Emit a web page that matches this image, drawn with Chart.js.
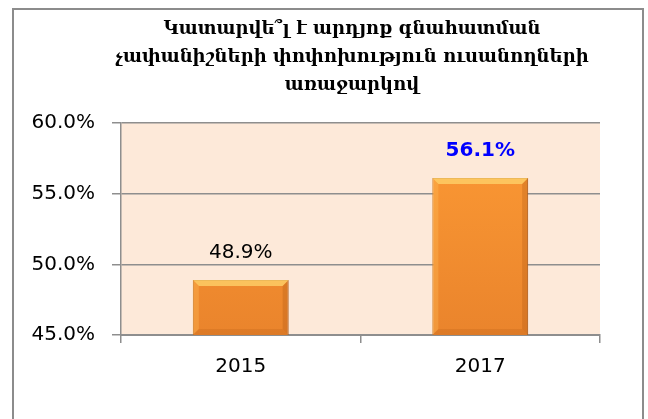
<!DOCTYPE html>
<html>
<head>
<meta charset="utf-8">
<script src="https://cdn.jsdelivr.net/npm/chart.js@4"></script>
<style>
  html, body { margin: 0; padding: 0; background: #ffffff; }
  #wrap { width: 648px; height: 419px; }
</style>
</head>
<body>
<div id="wrap"><canvas id="chart" width="648" height="419"></canvas></div>
<script>
// Chart data
const years = ['2015', '2017'];
const shares = [48.9, 56.1];
const titleLines = [
    'Կատարվե՞լ է արդյոք գնահատման',
    'չափանիշների փոփոխություն ուսանողների',
    'առաջարկով'
];
const labelColors = ['#000000', '#0000ff'];
const labelWeights = ['normal', 'bold'];

// Frame around the whole chart + peach plot background
const backgroundPlugin = {
    id: 'background',
    beforeDraw(chart) {
        const ctx = chart.ctx;
        const a = chart.chartArea;
        ctx.save();
        ctx.strokeStyle = '#8c8c8c';
        ctx.lineWidth = 2;
        ctx.strokeRect(13, 9, 630, 460);
        ctx.fillStyle = '#fde9d9';
        ctx.fillRect(a.left, a.top, a.right - a.left, a.bottom - a.top);
        ctx.restore();
    }
};

// Title drawn by hand so it can sit a little right of centre
const titlePlugin = {
    id: 'armTitle',
    afterDraw(chart) {
        const ctx = chart.ctx;
        ctx.save();
        ctx.font = 'bold 18px "DejaVu Serif", "DejaVu Sans", serif';
        ctx.fillStyle = '#000000';
        ctx.textAlign = 'center';
        ctx.textBaseline = 'middle';
        titleLines.forEach((line, i) => {
            ctx.fillText(line, 352, 29 + i * 28);
        });
        ctx.restore();
    }
};

// Value labels above the bars
const valueLabels = {
    id: 'valueLabels',
    afterDatasetsDraw(chart) {
        const ctx = chart.ctx;
        const meta = chart.getDatasetMeta(0);
        ctx.save();
        ctx.textAlign = 'center';
        ctx.textBaseline = 'middle';
        meta.data.forEach((bar, i) => {
            ctx.font = labelWeights[i] + ' 20px "DejaVu Sans", sans-serif';
            ctx.fillStyle = labelColors[i];
            ctx.fillText(shares[i].toFixed(1) + '%', bar.x, bar.y - 27);
        });
        ctx.restore();
    }
};

// Small bevel highlight on each bar
const bevelPlugin = {
    id: 'bevel',
    afterDatasetsDraw(chart) {
        const ctx = chart.ctx;
        const meta = chart.getDatasetMeta(0);
        const bottom = chart.scales.y.getPixelForValue(chart.scales.y.min);
        ctx.save();
        meta.data.forEach(bar => {
            const p = bar.getProps(['x', 'y', 'width'], true);
            const l = p.x - p.width / 2;
            const r = p.x + p.width / 2;
            const t = p.y;
            const b = bottom;
            const d = 6;
            ctx.fillStyle = 'rgba(255, 214, 110, 0.75)';
            ctx.beginPath();
            ctx.moveTo(l, t); ctx.lineTo(r, t); ctx.lineTo(r - d, t + d); ctx.lineTo(l + d, t + d);
            ctx.closePath(); ctx.fill();
            ctx.fillStyle = 'rgba(150, 70, 10, 0.22)';
            ctx.beginPath();
            ctx.moveTo(r, t); ctx.lineTo(r, b); ctx.lineTo(r - d, b - d); ctx.lineTo(r - d, t + d);
            ctx.closePath(); ctx.fill();
            ctx.fillStyle = 'rgba(150, 70, 10, 0.15)';
            ctx.beginPath();
            ctx.moveTo(l, b); ctx.lineTo(r, b); ctx.lineTo(r - d, b - d); ctx.lineTo(l + d, b - d);
            ctx.closePath(); ctx.fill();
            ctx.fillStyle = 'rgba(255, 190, 90, 0.35)';
            ctx.beginPath();
            ctx.moveTo(l, t); ctx.lineTo(l + d, t + d); ctx.lineTo(l + d, b - d); ctx.lineTo(l, b);
            ctx.closePath(); ctx.fill();
        });
        ctx.restore();
    }
};

function barFill(context) {
    const chart = context.chart;
    const area = chart.chartArea;
    if (!area) return '#f7962f';
    const g = chart.ctx.createLinearGradient(0, area.top, 0, area.bottom);
    g.addColorStop(0, '#fd9b35');
    g.addColorStop(1, '#ea842c');
    return g;
}

const ctx = document.getElementById('chart').getContext('2d');
const chart = new Chart(ctx, {
    type: 'bar',
    data: {
        labels: years,
        datasets: [{
            data: shares,
            backgroundColor: barFill,
            borderColor: '#b9661f',
            borderWidth: 1,
            borderSkipped: false,
            barPercentage: 0.4,
            categoryPercentage: 1
        }]
    },
    options: {
        responsive: false,
        animation: false,
        layout: {
            padding: { top: 123, right: 48, left: 0, bottom: 0 }
        },
        plugins: {
            legend: { display: false },
            title: { display: false },
            tooltip: { enabled: false }
        },
        scales: {
            y: {
                min: 45,
                max: 60,
                afterFit(scale) { scale.width = 121; },
                ticks: {
                    stepSize: 5,
                    padding: 17,
                    color: '#000000',
                    font: { family: '"DejaVu Sans", sans-serif', size: 20 },
                    callback: v => v.toFixed(1) + '%'
                },
                grid: { color: '#8e8e8e', tickLength: 9, lineWidth: 1.5 },
                border: { color: '#8e8e8e', width: 1.5 }
            },
            x: {
                afterFit(scale) { scale.height = 84; },
                ticks: {
                    padding: 12,
                    color: '#000000',
                    font: { family: '"DejaVu Sans", sans-serif', size: 20 }
                },
                grid: { drawOnChartArea: false, color: '#8e8e8e', tickLength: 8, lineWidth: 1.5 },
                border: { color: '#8e8e8e', width: 2 }
            }
        }
    },
    plugins: [backgroundPlugin, bevelPlugin, valueLabels, titlePlugin]
});
</script>
</body>
</html>
